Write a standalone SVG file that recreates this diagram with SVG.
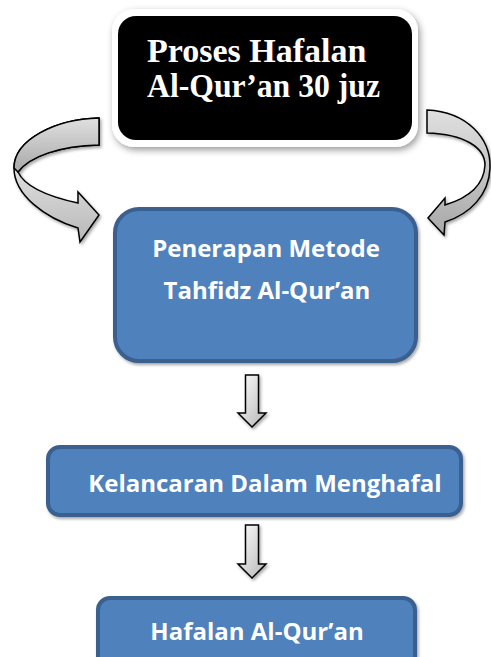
<svg xmlns="http://www.w3.org/2000/svg" width="491" height="657" viewBox="0 0 491 657">
  <style>
    .blue { fill: #4F81BD; stroke: #3A6090; stroke-width: 4; }
    .btxt { font-family: "Open Sans", "Noto Sans", sans-serif; font-weight: 700; font-size: 24px; fill: #ffffff; text-anchor: middle; }
    .ttxt { font-family: "Liberation Serif", "Times New Roman", serif; font-weight: 700; font-size: 34px; fill: #ffffff; }
    .arr { stroke: #000000; stroke-width: 1.5; stroke-linejoin: miter; }
  </style>
  <defs>
    <filter id="sh" x="-20%" y="-20%" width="140%" height="140%">
      <feDropShadow dx="2" dy="3" stdDeviation="3.5" flood-color="#000" flood-opacity="0.4"/>
    </filter>
    <filter id="sh2" x="-20%" y="-20%" width="140%" height="140%">
      <feDropShadow dx="1.5" dy="2" stdDeviation="1.5" flood-color="#000" flood-opacity="0.35"/>
    </filter>
    <linearGradient id="gLight" x1="0" y1="0" x2="0" y2="1">
      <stop offset="0" stop-color="#fafafa"/>
      <stop offset="1" stop-color="#b8b8b8"/>
    </linearGradient>
    <linearGradient id="gDark" x1="0" y1="0" x2="0" y2="1">
      <stop offset="0" stop-color="#e0e0e0"/>
      <stop offset="1" stop-color="#a8a8a8"/>
    </linearGradient>
    <linearGradient id="gDown" x1="0" y1="0" x2="1" y2="1">
      <stop offset="0" stop-color="#ffffff"/>
      <stop offset="1" stop-color="#b5b5b5"/>
    </linearGradient>
  </defs>

  <g id="connectors">
    <g id="curved-left" filter="url(#sh2)">
      <path class="arr" fill="url(#gLight)" d="M 99,118 C 55,119 14,140 14,168 C 14,195 45,218 78,228 L 80,242 L 99,215 L 78,192 L 78,203 C 50,197 25,187 18,172 C 30,156 60,146 99,145 Z"/>
      <path class="arr" fill="url(#gDark)" d="M 99,118 C 55,119 14,140 14,168 L 18,172 C 30,156 60,146 99,145 Z"/>
    </g>
    <g id="curved-right" filter="url(#sh2)">
      <path class="arr" fill="url(#gDark)" d="M 427,110 C 467,112 491,138 490,168 C 489,195 470,214 445,222 L 444,235 L 428,218 L 445,198 L 445,205 C 468,198 484,185 485,165 C 485,148 465,134 427,133 Z"/>
    </g>
    <path id="down1" class="arr" fill="url(#gDown)" filter="url(#sh2)" d="M 245.5,375 H 258.5 V 413 H 266 L 252,427 L 238,413 H 245.5 Z"/>
    <path id="down2" class="arr" fill="url(#gDown)" filter="url(#sh2)" d="M 245.5,525 H 258.5 V 564 H 266 L 252,578 L 238,564 H 245.5 Z"/>
  </g>

  <g id="node-proses">
    <rect x="112" y="9" width="306" height="138" rx="22" fill="#ffffff" filter="url(#sh)"/>
    <rect x="118" y="16" width="294" height="124" rx="18" fill="#000000"/>
    <text class="ttxt" x="147" y="62">Proses Hafalan</text>
    <text class="ttxt" x="147" y="97" textLength="233" lengthAdjust="spacingAndGlyphs">Al-Qur’an 30 juz</text>
  </g>

  <g id="node-penerapan">
    <rect class="blue" x="115" y="209" width="301" height="152" rx="24" filter="url(#sh2)"/>
    <text class="btxt" x="266" y="257">Penerapan Metode</text>
    <text class="btxt" x="267" y="299">Tahfidz Al-Qur’an</text>
  </g>

  <g id="node-kelancaran">
    <rect class="blue" x="48" y="447" width="413" height="68" rx="12" filter="url(#sh2)"/>
    <text class="btxt" x="265" y="492">Kelancaran Dalam Menghafal</text>
  </g>

  <g id="node-hafalan">
    <rect class="blue" x="98" y="598" width="317" height="80" rx="12" filter="url(#sh2)"/>
    <text class="btxt" x="257" y="640">Hafalan Al-Qur’an</text>
  </g>
</svg>
